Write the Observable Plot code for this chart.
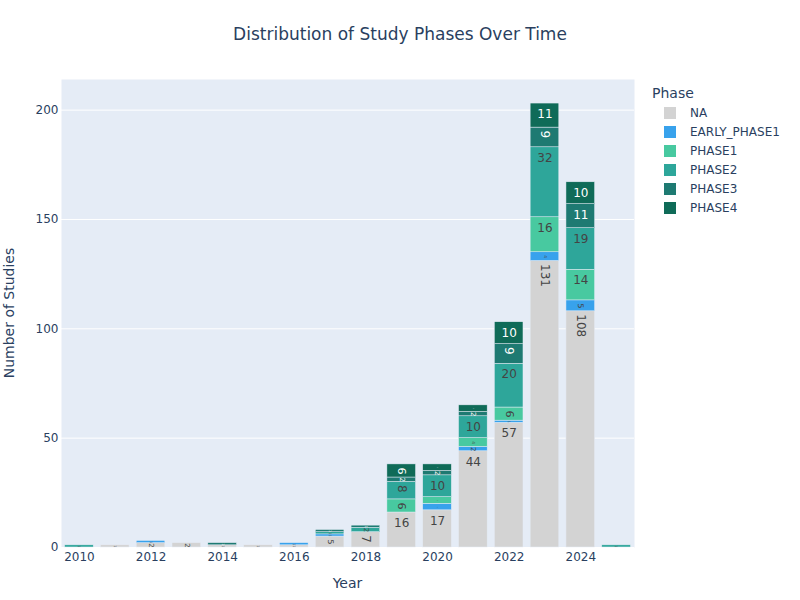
<!DOCTYPE html>
<html><head><meta charset="utf-8">
<script src="https://cdn.jsdelivr.net/npm/d3@7"></script>
<script src="https://cdn.jsdelivr.net/npm/@observablehq/plot@0.6"></script>
<style>
body{margin:0;background:#fff;font-family:"DejaVu Sans",Verdana,sans-serif;color:#2a3f5f}
#wrap{position:relative;width:800px;height:600px;overflow:hidden}
#chart{position:absolute;left:0;top:0}
.t{position:absolute;white-space:nowrap}
.sw{position:absolute;width:12px;height:12px}
</style></head><body>
<div id="wrap">
<div id="chart"></div>
<div class="t" style="left:0;width:800px;text-align:center;top:24px;font-size:17px;line-height:20px">Distribution of Study Phases Over Time</div>
<div class="t" style="left:61px;width:573px;text-align:center;top:575px;font-size:14px;line-height:16px">Year</div>
<div class="t" style="left:-225px;width:468px;text-align:center;top:305px;font-size:14px;line-height:16px;transform:rotate(-90deg)">Number of Studies</div>
<div id="legend"></div>
</div>
<script>
const years = [2010,2011,2012,2013,2014,2015,2016,2017,2018,2019,2020,2021,2022,2023,2024,2025];
const phases = ["NA","EARLY_PHASE1","PHASE1","PHASE2","PHASE3","PHASE4"];
const colors = ["#d3d3d3","#38a2ec","#48c9a0","#2ea69a","#1e7a72","#0f6b58"];
const naCounts     = [0,1,2,2,1,1,1,5,7,16,17,44,57,131,108,0];
const earlyCounts  = [0,0,1,0,0,0,1,1,0,0,3,2,1,4,5,0];
const phase1Counts = [0,0,0,0,0,0,0,0,0,6,3,4,6,16,14,0];
const phase2Counts = [1,0,0,0,0,0,0,1,2,8,10,10,20,32,19,1];
const phase3Counts = [0,0,0,0,1,0,0,1,1,2,2,2,9,9,11,0];
const phase4Counts = [0,0,0,0,0,0,0,0,0,6,3,3,10,11,10,0];
const yTicks = [0,50,100,150,200];
const xTicks = [2010,2012,2014,2016,2018,2020,2022,2024];

const series = [naCounts,earlyCounts,phase1Counts,phase2Counts,phase3Counts,phase4Counts];
const yMax = 214;
const plotH = 600-79-53, plotW = 800-61-166;
const PX = plotH / yMax;
const BW = plotW / 16 * 0.8, CH = 7.63, TH = 14;
function fit(v){
  const h = v*PX, w = String(v).length*CH;
  const p = h > 6 ? 3 : 0;
  const aw = BW-2*p, ah = h-2*p;
  if (w <= aw && TH <= ah) return {rot:false, fs:12, p};
  const su = Math.min(aw/w, ah/TH), sr = Math.min(aw/TH, ah/w);
  if (sr > su) return {rot:true, fs:12*Math.min(1,sr), p};
  return {rot:false, fs:12*Math.min(1,su), p};
}
const rows = [];
years.forEach((y,i)=>phases.forEach((ph,j)=>{
  const v = series[j][i];
  if (v>0) rows.push({year:y, phase:ph, value:v, dark:j>=4, ...fit(v)});
}));

function txt(pred, opts){
  return Plot.text(rows, Plot.stackY2({x:"year", y:"value", z:"phase", order:phases,
    text: d => pred(d) ? String(d.value) : "",
    fontSize: d => d.fs, ...opts}));
}
const marks = [
  Plot.frame({fill:"#e5ecf6", stroke:null}),
  Plot.gridY(yTicks, {stroke:"#fff", strokeOpacity:1, strokeWidth:1}),
  Plot.axisY(yTicks, {tickSize:0, tickPadding:3, label:null, fontSize:12}),
  Plot.axisX(xTicks, {tickSize:0, tickPadding:5, label:null, tickFormat:"d", fontSize:12}),
  Plot.barY(rows, Plot.stackY({x:"year", y:"value", fill:"phase", order:phases, stroke:"#e5ecf6", strokeWidth:0.5}))
];
for (const dark of [false,true]) {
  const fill = dark ? "#fff" : "#444";
  marks.push(txt(d => !d.rot && d.dark===dark, {fill, lineAnchor:"top", dy:6}));
  for (const p of [0,3]) {
    marks.push(txt(d => d.rot && d.p===p && d.dark===dark, {fill, rotate:90, textAnchor:"start", lineAnchor:"middle", dy:p}));
  }
}
const chart = Plot.plot({
  width:800, height:600, marginLeft:61, marginRight:166, marginTop:79, marginBottom:53,
  style:{fontFamily:"DejaVu Sans, Verdana, sans-serif", fontSize:"12px", color:"#2a3f5f", background:"transparent"},
  x:{type:"band", domain:years, paddingInner:0.2, paddingOuter:0.1, align:0.5, round:false},
  y:{domain:[0,yMax], nice:false},
  color:{domain:phases, range:colors},
  marks
});
document.getElementById("chart").appendChild(chart);

const leg = document.getElementById("legend");
let html = '<div class="t" style="left:652px;top:85px;font-size:14px;line-height:16px">Phase</div>';
phases.forEach((ph,i)=>{
  const cy = 113 + i*19;
  html += `<div class="sw" style="left:664px;top:${cy-6}px;background:${colors[i]}"></div>`;
  html += `<div class="t" style="left:690px;top:${cy-7}px;font-size:12px;line-height:14px">${ph}</div>`;
});
leg.innerHTML = html;
</script>
</body></html>
